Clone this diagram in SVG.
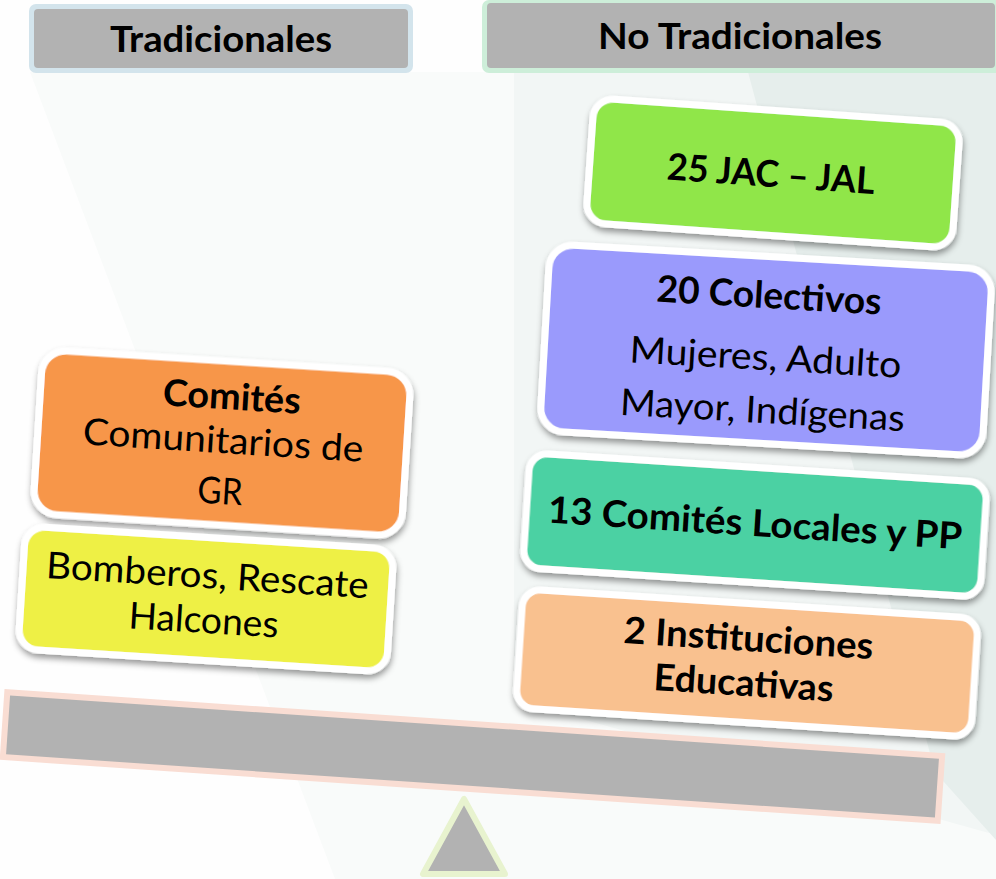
<svg xmlns="http://www.w3.org/2000/svg" width="996" height="879" viewBox="0 0 996 879">
<defs>
<filter id="sh" x="-10%" y="-15%" width="120%" height="140%">
<feDropShadow dx="1" dy="4" stdDeviation="3" flood-color="#000" flood-opacity="0.4"/>
</filter>
<style>
.t{font-family:Lato,"Open Sans","Liberation Sans",sans-serif;font-size:37px;fill:#000;text-anchor:middle}
.b{font-weight:bold}
.box{stroke:#fff;stroke-width:7}
</style>
</defs>
<rect width="996" height="879" fill="#fefefe"/>
<polygon points="30,72 996,72 996,879 335,879" fill="#f9fbfa"/>
<polygon points="514,72 996,72 996,835 514,700" fill="#f2f6f5"/>
<polygon points="748,72 996,72 996,840 935,772" fill="#e6eeec"/>

<g id="hdr-trad">
<rect x="29" y="4" width="384" height="69" rx="7" fill="#d3e4ec"/>
<rect x="34" y="9" width="374" height="59" rx="4" fill="#b2b2b2"/>
<text class="t b" x="221" y="52" textLength="222" lengthAdjust="spacingAndGlyphs">Tradicionales</text>
</g>
<g id="hdr-notrad">
<rect x="482" y="0" width="520" height="73" rx="7" fill="#cdeed9"/>
<rect x="487" y="3" width="508" height="65" rx="4" fill="#b2b2b2"/>
<text class="t b" x="740" y="49" textLength="284" lengthAdjust="spacingAndGlyphs">No Tradicionales</text>
</g>

<g id="jac" transform="translate(773,173) rotate(4)">
<rect class="box" x="-183.5" y="-62.5" width="367" height="125" rx="20" fill="#90e64a" filter="url(#sh)"/>
<text class="t b" x="-2" y="14" textLength="208" lengthAdjust="spacingAndGlyphs">25 JAC – JAL</text>
</g>

<g id="colectivos" transform="translate(766,350) rotate(3.3)">
<rect class="box" x="-221.5" y="-93.5" width="443" height="187" rx="24" fill="#9a9afc" filter="url(#sh)"/>
<text class="t b" x="0" y="-42" textLength="225" lengthAdjust="spacingAndGlyphs">20 Colectivos</text>
<text class="t" x="0" y="20" textLength="272" lengthAdjust="spacingAndGlyphs">Mujeres, Adulto</text>
<text class="t" x="0" y="73" textLength="285" lengthAdjust="spacingAndGlyphs">Mayor, Indígenas</text>
</g>

<g id="comites-locales" transform="translate(755,525) rotate(3.7)">
<rect class="box" x="-229" y="-57.5" width="458" height="115" rx="18" fill="#4bd1a3" filter="url(#sh)"/>
<text class="t b" x="0" y="11" textLength="415" lengthAdjust="spacingAndGlyphs">13 Comités  Locales y PP</text>
</g>

<g id="instituciones" transform="translate(747,663) rotate(3.7)">
<rect class="box" x="-228" y="-59.5" width="456" height="119" rx="18" fill="#f9c18f" filter="url(#sh)"/>
<text class="t b" x="0" y="-12" textLength="250" lengthAdjust="spacingAndGlyphs">2 Instituciones</text>
<text class="t b" x="-2" y="33" textLength="180" lengthAdjust="spacingAndGlyphs">Educativas</text>
</g>

<g id="comites-gr" transform="translate(222,443) rotate(3.6)">
<rect class="box" x="-184.5" y="-82" width="369" height="164" rx="24" fill="#f7964a" filter="url(#sh)"/>
<text class="t b" x="7" y="-34" textLength="138" lengthAdjust="spacingAndGlyphs">Comités</text>
<text class="t" x="1" y="10" textLength="281" lengthAdjust="spacingAndGlyphs">Comunitarios  de</text>
<text class="t" x="1" y="61" textLength="45" lengthAdjust="spacingAndGlyphs">GR</text>
</g>

<g id="bomberos" transform="translate(206,599) rotate(3.6)">
<rect class="box" x="-184.5" y="-61.5" width="369" height="123" rx="20" fill="#eef045" filter="url(#sh)"/>
<text class="t" x="0" y="-11" textLength="323" lengthAdjust="spacingAndGlyphs">Bomberos,  Rescate</text>
<text class="t" x="-1" y="34" textLength="150" lengthAdjust="spacingAndGlyphs">Halcones</text>
</g>

<g id="beam" transform="translate(472.5,756.5) rotate(3.9)">
<rect x="-468.5" y="-32.5" width="937" height="65" fill="#b2b2b2" stroke="#f9ddd3" stroke-width="6"/>
</g>

<g id="fulcrum">
<polygon points="464,799 423,874 505,874" fill="#b2b2b2" stroke="#e8f3cf" stroke-width="6" stroke-linejoin="round"/>
</g>

<g id="connectors"></g>
</svg>
